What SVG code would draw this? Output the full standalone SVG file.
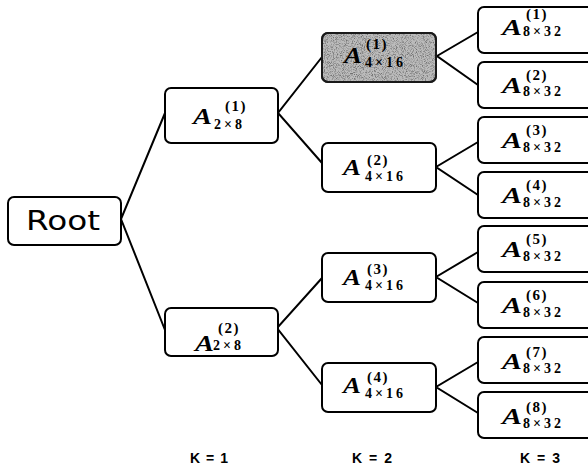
<svg xmlns="http://www.w3.org/2000/svg" width="588" height="475" viewBox="0 0 588 475">
  <style>
    .box { fill: #ffffff; stroke: #000000; stroke-width: 2; }
    .sel { fill: #bcbcbc; stroke: #1a1a1a; stroke-width: 2; }
    .edge { stroke: #000000; stroke-width: 2; fill: none; stroke-linecap: round; }
    .a { font-family: "Liberation Serif", "Times New Roman", serif; font-style: italic; font-weight: bold; font-size: 24px; fill: #000; }
    .sup { font-family: "Liberation Serif", "Times New Roman", serif; font-weight: bold; font-size: 15px; letter-spacing: 1.5px; fill: #000; }
    .sub { font-family: "Liberation Serif", "Times New Roman", serif; font-weight: bold; font-size: 14px; letter-spacing: 3px; fill: #000; }
    .root { font-family: "DejaVu Sans", "Liberation Sans", sans-serif; font-size: 27px; fill: #000; }
    .lvl { font-family: "Liberation Sans", "DejaVu Sans", sans-serif; font-weight: bold; font-size: 14px; fill: #000; }
  </style>
  <defs>
    <filter id="grain" x="0" y="0" width="100%" height="100%">
      <feTurbulence type="fractalNoise" baseFrequency="1.1" numOctaves="2" seed="4" result="noise"/>
      <feColorMatrix in="noise" type="matrix" values="0 0 0 0 0  0 0 0 0 0  0 0 0 0 0  3 0 0 0 -1.35" result="dots"/>
      <feComposite in="dots" in2="SourceGraphic" operator="in"/>
    </filter>
  </defs>

  <rect width="588" height="475" fill="#ffffff"/>

  <!-- tree edges -->
  <g id="connectors">
    <polyline class="edge" points="165,113 121,219 165,330"/>
    <polyline class="edge" points="322,57 278,113 322,163"/>
    <polyline class="edge" points="322,278 277,328 322,385"/>
    <polyline class="edge" points="478,32 437,56 478,85"/>
    <polyline class="edge" points="478,142 436,167 478,195"/>
    <polyline class="edge" points="478,252 436,277 478,303"/>
    <polyline class="edge" points="478,362 436,387 478,413"/>
  </g>

  <g id="root">
    <rect class="box" x="8" y="197" width="113" height="48" rx="6"/>
    <text class="root" x="26" y="230" textLength="74" lengthAdjust="spacingAndGlyphs">Root</text>
  </g>

  <!-- level K = 1 -->
  <g id="a1-2x8">
    <rect class="box" x="165" y="88" width="113" height="55" rx="6"/>
    <text class="a" x="193" y="124" textLength="19" lengthAdjust="spacingAndGlyphs">A</text>
    <text class="sup" x="225" y="111">(1)</text>
    <text class="sub" x="214" y="129">2×8</text>
  </g>
  <g id="a2-2x8">
    <rect class="box" x="165" y="308" width="113" height="48" rx="6"/>
    <text class="a" x="195" y="351" textLength="19" lengthAdjust="spacingAndGlyphs">A</text>
    <text class="sup" x="218" y="333">(2)</text>
    <text class="sub" x="213" y="350">2×8</text>
  </g>

  <!-- level K = 2 -->
  <g id="a1-4x16">
    <rect class="sel" x="322" y="33" width="114" height="49" rx="6"/>
    <rect x="323" y="34" width="112" height="47" rx="5" fill="#ffffff" filter="url(#grain)" opacity="0.4"/>
    <rect x="322" y="33" width="114" height="49" rx="6" fill="none" stroke="#1a1a1a" stroke-width="2"/>
    <text class="a" x="344" y="63" textLength="18" lengthAdjust="spacingAndGlyphs">A</text>
    <text class="sup" x="366" y="49">(1)</text>
    <text class="sub" x="365" y="67">4×16</text>
  </g>
  <g id="a2-4x16">
    <rect class="box" x="322" y="143" width="114" height="49" rx="6"/>
    <text class="a" x="343" y="175" textLength="18" lengthAdjust="spacingAndGlyphs">A</text>
    <text class="sup" x="367" y="165">(2)</text>
    <text class="sub" x="365" y="181">4×16</text>
  </g>
  <g id="a3-4x16">
    <rect class="box" x="322" y="253" width="114" height="49" rx="6"/>
    <text class="a" x="343" y="285" textLength="18" lengthAdjust="spacingAndGlyphs">A</text>
    <text class="sup" x="367" y="274">(3)</text>
    <text class="sub" x="365" y="290">4×16</text>
  </g>
  <g id="a4-4x16">
    <rect class="box" x="322" y="363" width="114" height="49" rx="6"/>
    <text class="a" x="343" y="393" textLength="18" lengthAdjust="spacingAndGlyphs">A</text>
    <text class="sup" x="367" y="382">(4)</text>
    <text class="sub" x="365" y="398">4×16</text>
  </g>

  <!-- level K = 3 -->
  <g id="a1-8x32">
    <rect class="box" x="478" y="7" width="116" height="46" rx="6"/>
    <text class="a" x="502" y="35" textLength="20" lengthAdjust="spacingAndGlyphs">A</text>
    <text class="sup" x="526" y="19">(1)</text>
    <text class="sub" x="523" y="36">8×32</text>
  </g>
  <g id="a2-8x32">
    <rect class="box" x="478" y="62" width="116" height="46" rx="6"/>
    <text class="a" x="502" y="93" textLength="20" lengthAdjust="spacingAndGlyphs">A</text>
    <text class="sup" x="526" y="80">(2)</text>
    <text class="sub" x="523" y="96">8×32</text>
  </g>
  <g id="a3-8x32">
    <rect class="box" x="478" y="117" width="116" height="46" rx="6"/>
    <text class="a" x="502" y="148" textLength="20" lengthAdjust="spacingAndGlyphs">A</text>
    <text class="sup" x="526" y="135">(3)</text>
    <text class="sub" x="523" y="152">8×32</text>
  </g>
  <g id="a4-8x32">
    <rect class="box" x="478" y="172" width="116" height="46" rx="6"/>
    <text class="a" x="502" y="203" textLength="20" lengthAdjust="spacingAndGlyphs">A</text>
    <text class="sup" x="526" y="190">(4)</text>
    <text class="sub" x="523" y="207">8×32</text>
  </g>
  <g id="a5-8x32">
    <rect class="box" x="478" y="226" width="116" height="46" rx="6"/>
    <text class="a" x="502" y="257" textLength="20" lengthAdjust="spacingAndGlyphs">A</text>
    <text class="sup" x="526" y="244">(5)</text>
    <text class="sub" x="523" y="261">8×32</text>
  </g>
  <g id="a6-8x32">
    <rect class="box" x="478" y="282" width="116" height="46" rx="6"/>
    <text class="a" x="502" y="313" textLength="20" lengthAdjust="spacingAndGlyphs">A</text>
    <text class="sup" x="526" y="300">(6)</text>
    <text class="sub" x="523" y="317">8×32</text>
  </g>
  <g id="a7-8x32">
    <rect class="box" x="478" y="337" width="116" height="46" rx="6"/>
    <text class="a" x="502" y="369" textLength="20" lengthAdjust="spacingAndGlyphs">A</text>
    <text class="sup" x="526" y="357">(7)</text>
    <text class="sub" x="523" y="373">8×32</text>
  </g>
  <g id="a8-8x32">
    <rect class="box" x="478" y="392" width="116" height="46" rx="6"/>
    <text class="a" x="502" y="424" textLength="20" lengthAdjust="spacingAndGlyphs">A</text>
    <text class="sup" x="526" y="412">(8)</text>
    <text class="sub" x="523" y="428">8×32</text>
  </g>

  <!-- depth labels -->
  <g id="levels">
    <text class="lvl" x="190" y="463" textLength="38">K = 1</text>
    <text class="lvl" x="352" y="463" textLength="40">K = 2</text>
    <text class="lvl" x="520" y="463" textLength="40">K = 3</text>
  </g>
</svg>
